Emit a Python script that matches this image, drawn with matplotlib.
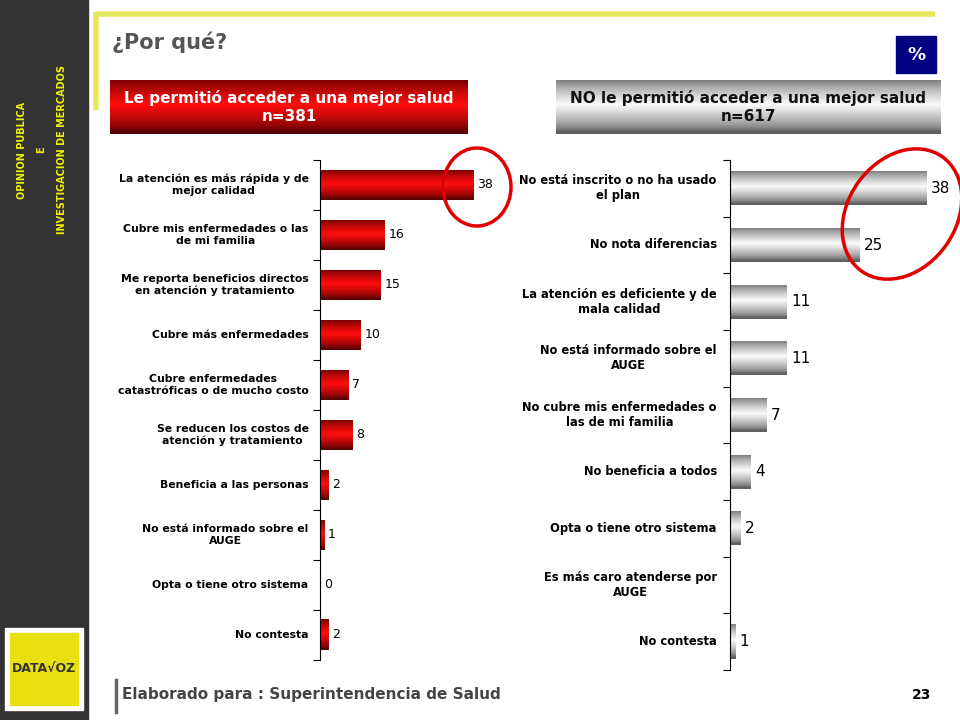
import numpy as np
import matplotlib.pyplot as plt
from matplotlib.patches import Rectangle, Ellipse

left_labels = ["La atención es más rápida y de\nmejor calidad",
               "Cubre mis enfermedades o las\nde mi familia",
               "Me reporta beneficios directos\nen atención y tratamiento",
               "Cubre más enfermedades",
               "Cubre enfermedades\ncatastróficas o de mucho costo",
               "Se reducen los costos de\natención y tratamiento",
               "Beneficia a las personas",
               "No está informado sobre el\nAUGE",
               "Opta o tiene otro sistema",
               "No contesta"]
left_values = [38, 16, 15, 10, 7, 8, 2, 1, 0, 2]

right_labels = ["No está inscrito o no ha usado\nel plan",
                "No nota diferencias",
                "La atención es deficiente y de\nmala calidad",
                "No está informado sobre el\nAUGE",
                "No cubre mis enfermedades o\nlas de mi familia",
                "No beneficia a todos",
                "Opta o tiene otro sistema",
                "Es más caro atenderse por\nAUGE",
                "No contesta"]
right_values = [38, 25, 11, 11, 7, 4, 2, None, 1]

W, H = 960, 720
fig = plt.figure(figsize=(9.6, 7.2), dpi=100)

# overlay in pixel coordinates for decoration
ov = fig.add_axes([0, 0, 1, 1])
ov.set_xlim(0, W)
ov.set_ylim(H, 0)
ov.axis("off")

def grad(kind, n=64):
    t = np.linspace(0, 1, n)
    m = 1 - np.abs(t - 0.45) * 2
    m = np.clip(m, 0, 1) ** 0.7
    if kind == "red":
        dark = np.array([0.35, 0.0, 0.0]); light = np.array([1.0, 0.05, 0.05])
    else:
        dark = np.array([0.38, 0.38, 0.38]); light = np.array([0.98, 0.98, 0.98])
    return (dark[None, :] + (light - dark)[None, :] * m[:, None])[:, None, :]

# sidebar
ov.add_patch(Rectangle((0, 0), 88, H, color="#333333", zorder=0))
ov.text(22, 150, "OPINION PUBLICA", rotation=90, color="#f0f000", fontsize=7,
        fontweight="bold", ha="center", va="center")
ov.text(41, 150, "E", rotation=90, color="#f0f000", fontsize=7,
        fontweight="bold", ha="center", va="center")
ov.text(62, 150, "INVESTIGACION DE MERCADOS", rotation=90, color="#f0f000",
        fontsize=7, fontweight="bold", ha="center", va="center")
ov.add_patch(Rectangle((5, 628), 78, 82, color="white"))
ov.add_patch(Rectangle((10, 633), 68, 72, color="#e8e010"))
ov.text(44, 669, "DATA√OZ", fontsize=9, fontweight="bold", color="#333333",
        ha="center", va="center")

# yellow frame
ov.plot([96, 935], [14, 14], color="#e8e860", lw=4, solid_capstyle="butt")
ov.plot([96, 96], [12, 110], color="#e8e860", lw=4, solid_capstyle="butt")
ov.text(112, 42, "¿Por qué?", fontsize=15, fontweight="bold", color="#555555",
        va="center")
ov.add_patch(Rectangle((896, 36), 40, 37, color="#000080"))
ov.text(916, 55, "%", color="white", fontsize=13, fontweight="bold",
        ha="center", va="center")

# header boxes
ov.imshow(grad("red"), extent=[110, 468, 134, 80], aspect="auto", zorder=1)
ov.text(289, 107, "Le permitió acceder a una mejor salud\nn=381", color="white",
        fontsize=11, fontweight="bold", ha="center", va="center", zorder=2)
ov.imshow(grad("gray"), extent=[556, 941, 134, 80], aspect="auto", zorder=1)
ov.text(748, 107, "NO le permitió acceder a una mejor salud\nn=617", color="#111111",
        fontsize=11, fontweight="bold", ha="center", va="center", zorder=2)

# footer
ov.plot([116, 116], [680, 712], color="#666666", lw=2.5)
ov.text(122, 694, "Elaborado para : Superintendencia de Salud", fontsize=11,
        fontweight="bold", color="#444444", va="center")
ov.text(922, 695, "23", fontsize=10, fontweight="bold", ha="center", va="center")

def bar_panel(rect, labels, values, xmax, kind, fs, lfs):
    ax = fig.add_axes(rect)
    ax.patch.set_alpha(0)
    n = len(values)
    h = 0.6
    for i, v in enumerate(values):
        yc = i + 0.5
        if v:
            ax.imshow(grad(kind), extent=[0, v, yc + h / 2, yc - h / 2],
                      aspect="auto", zorder=2)
        if v is not None:
            ax.text(v + xmax * 0.02, yc, str(v), va="center", ha="left", fontsize=fs)
        ax.text(-xmax * 0.06, yc, labels[i], va="center", ha="right",
                fontsize=lfs, fontweight="bold", multialignment="center")
    ax.set_xlim(0, xmax)
    ax.set_ylim(n, 0)
    for s in ["top", "right", "bottom"]:
        ax.spines[s].set_visible(False)
    ax.set_xticks([])
    ax.set_yticks(np.arange(n + 1))
    ax.set_yticklabels([])
    ax.tick_params(axis="y", direction="out", length=5)
    return ax

bar_panel([320 / W, 60 / H, 190 / W, 500 / H], left_labels, left_values, 47, "red", 9, 7.8)
bar_panel([730 / W, 50 / H, 220 / W, 510 / H], right_labels, right_values, 42.5, "gray", 11, 8.3)

# red highlight ellipses on top
top = fig.add_axes([0, 0, 1, 1])
top.set_xlim(0, W)
top.set_ylim(H, 0)
top.axis("off")
top.add_patch(Ellipse((477, 187), 68, 78, fill=False, ec="#e00000", lw=2.5))
top.add_patch(Ellipse((902, 214), 108, 140, angle=35, fill=False, ec="#e00000", lw=2.5))

fig.savefig("out.png", dpi=100)
